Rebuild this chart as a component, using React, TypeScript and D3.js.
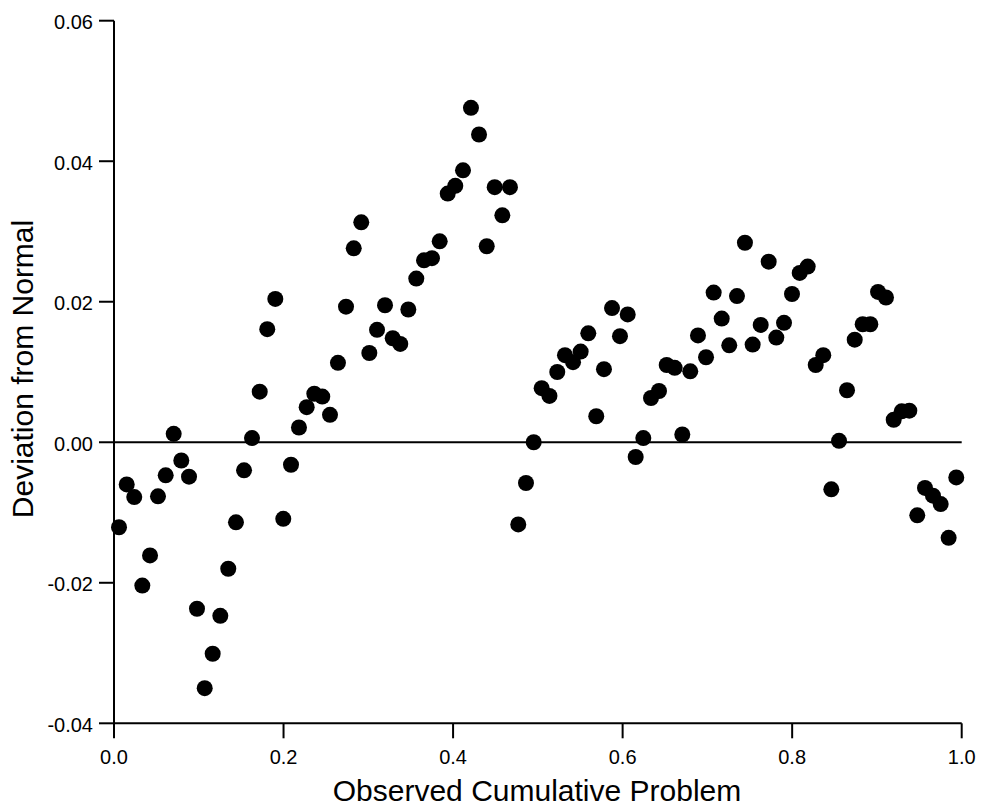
import React from 'react';
import * as d3 from 'd3';

// observed cumulative probability (x) and deviation from normal (y)
const observedCum = [
  0.0059, 0.0150, 0.0239, 0.0334, 0.0425, 0.0519, 0.0610, 0.0704, 0.0794, 0.0885,
  0.0979, 0.1070, 0.1164, 0.1254, 0.1348, 0.1439, 0.1534, 0.1628, 0.1719, 0.1808,
  0.1903, 0.1997, 0.2088, 0.2182, 0.2273, 0.2363, 0.2457, 0.2548, 0.2642, 0.2737,
  0.2828, 0.2917, 0.3012, 0.3103, 0.3197, 0.3288, 0.3377, 0.3472, 0.3566, 0.3657,
  0.3751, 0.3842, 0.3937, 0.4026, 0.4117, 0.4211, 0.4306, 0.4397, 0.4491, 0.4581,
  0.4671, 0.4769, 0.4860, 0.4951, 0.5045, 0.5137, 0.5229, 0.5320, 0.5415, 0.5505,
  0.5595, 0.5689, 0.5780, 0.5875, 0.5969, 0.6060, 0.6154, 0.6244, 0.6335, 0.6429,
  0.6520, 0.6614, 0.6704, 0.6798, 0.6889, 0.6984, 0.7074, 0.7169, 0.7258, 0.7349,
  0.7443, 0.7534, 0.7629, 0.7723, 0.7813, 0.7904, 0.7998, 0.8089, 0.8183, 0.8278,
  0.8367, 0.8462, 0.8553, 0.8647, 0.8738, 0.8832, 0.8922, 0.9013, 0.9107, 0.9198,
  0.9292, 0.9382, 0.9476, 0.9567, 0.9661, 0.9752, 0.9846, 0.9936,
];

const deviation = [
  -0.0121, -0.0060, -0.0078, -0.0204, -0.0161, -0.0077, -0.0047, 0.0012, -0.0026, -0.0049,
  -0.0237, -0.0350, -0.0301, -0.0247, -0.0180, -0.0114, -0.0040, 0.0006, 0.0072, 0.0161,
  0.0204, -0.0109, -0.0032, 0.0021, 0.0050, 0.0069, 0.0065, 0.0039, 0.0113, 0.0193,
  0.0276, 0.0313, 0.0127, 0.0160, 0.0195, 0.0148, 0.0140, 0.0189, 0.0233, 0.0259,
  0.0262, 0.0286, 0.0354, 0.0365, 0.0387, 0.0476, 0.0438, 0.0279, 0.0363, 0.0323,
  0.0363, -0.0117, -0.0058, 0.0000, 0.0077, 0.0066, 0.0100, 0.0124, 0.0114, 0.0129,
  0.0155, 0.0037, 0.0104, 0.0191, 0.0151, 0.0182, -0.0021, 0.0006, 0.0063, 0.0073,
  0.0110, 0.0106, 0.0011, 0.0101, 0.0152, 0.0121, 0.0213, 0.0176, 0.0138, 0.0208,
  0.0284, 0.0139, 0.0167, 0.0257, 0.0149, 0.0170, 0.0211, 0.0241, 0.0250, 0.0110,
  0.0124, -0.0067, 0.0002, 0.0074, 0.0146, 0.0168, 0.0168, 0.0214, 0.0206, 0.0032,
  0.0044, 0.0045, -0.0104, -0.0065, -0.0076, -0.0088, -0.0136, -0.0050,
];

const xTicks = [0, 0.2, 0.4, 0.6, 0.8, 1.0];
const yTicks = [-0.04, -0.02, 0, 0.02, 0.04, 0.06];

const W = 981, H = 806;
const font = '"Liberation Sans", Arial, Helvetica, sans-serif';

// plain hyphen for negatives, like the original
const fmtY = (t: number) => d3.format('.2f')(t).replace('\u2212', '-');
const fmtX = (t: number) => d3.format('.1f')(t);

export default function App() {
  const x = d3.scaleLinear().domain([0, 1]).range([114, 961.7]);
  const y = d3.scaleLinear().domain([-0.04, 0.06]).range([723.3, 20.7]);
  const tickLen = 15;

  const points = observedCum.map((v, i) => ({ x: v, y: deviation[i] }));

  return (
    <svg width={W} height={H} style={{ position: 'absolute', left: 0, top: 0, background: '#fff' }}
         fontFamily={font}>
      {/* zero reference line */}
      <line x1={x(0)} x2={x(1)} y1={y(0)} y2={y(0)} stroke="#000" strokeWidth={2} />

      {/* y axis */}
      <line x1={x(0)} x2={x(0)} y1={y(0.06)} y2={y(-0.04)} stroke="#000" strokeWidth={2} />
      {yTicks.map(t => (
        <g key={'y' + t}>
          <line x1={x(0) - tickLen} x2={x(0)} y1={y(t)} y2={y(t)} stroke="#000" strokeWidth={2} />
          <text x={x(0) - tickLen - 6} y={y(t)} dy="0.42em" textAnchor="end" fontSize={20}>
            {fmtY(t)}
          </text>
        </g>
      ))}

      {/* x axis */}
      <line x1={x(0)} x2={x(1)} y1={y(-0.04)} y2={y(-0.04)} stroke="#000" strokeWidth={2} />
      {xTicks.map(t => (
        <g key={'x' + t}>
          <line x1={x(t)} x2={x(t)} y1={y(-0.04)} y2={y(-0.04) + tickLen} stroke="#000" strokeWidth={2} />
          <text x={x(t)} y={764} textAnchor="middle" fontSize={20}>
            {fmtX(t)}
          </text>
        </g>
      ))}

      {/* axis titles */}
      <text x={537} y={801} textAnchor="middle" fontSize={30}>Observed Cumulative Problem</text>
      <text transform="translate(33,369) rotate(-90)" textAnchor="middle" fontSize={30}>
        Deviation from Normal
      </text>

      {/* points */}
      {points.map((p, i) => (
        <circle key={i} cx={x(p.x)} cy={y(p.y)} r={8} fill="#000" />
      ))}
    </svg>
  );
}
